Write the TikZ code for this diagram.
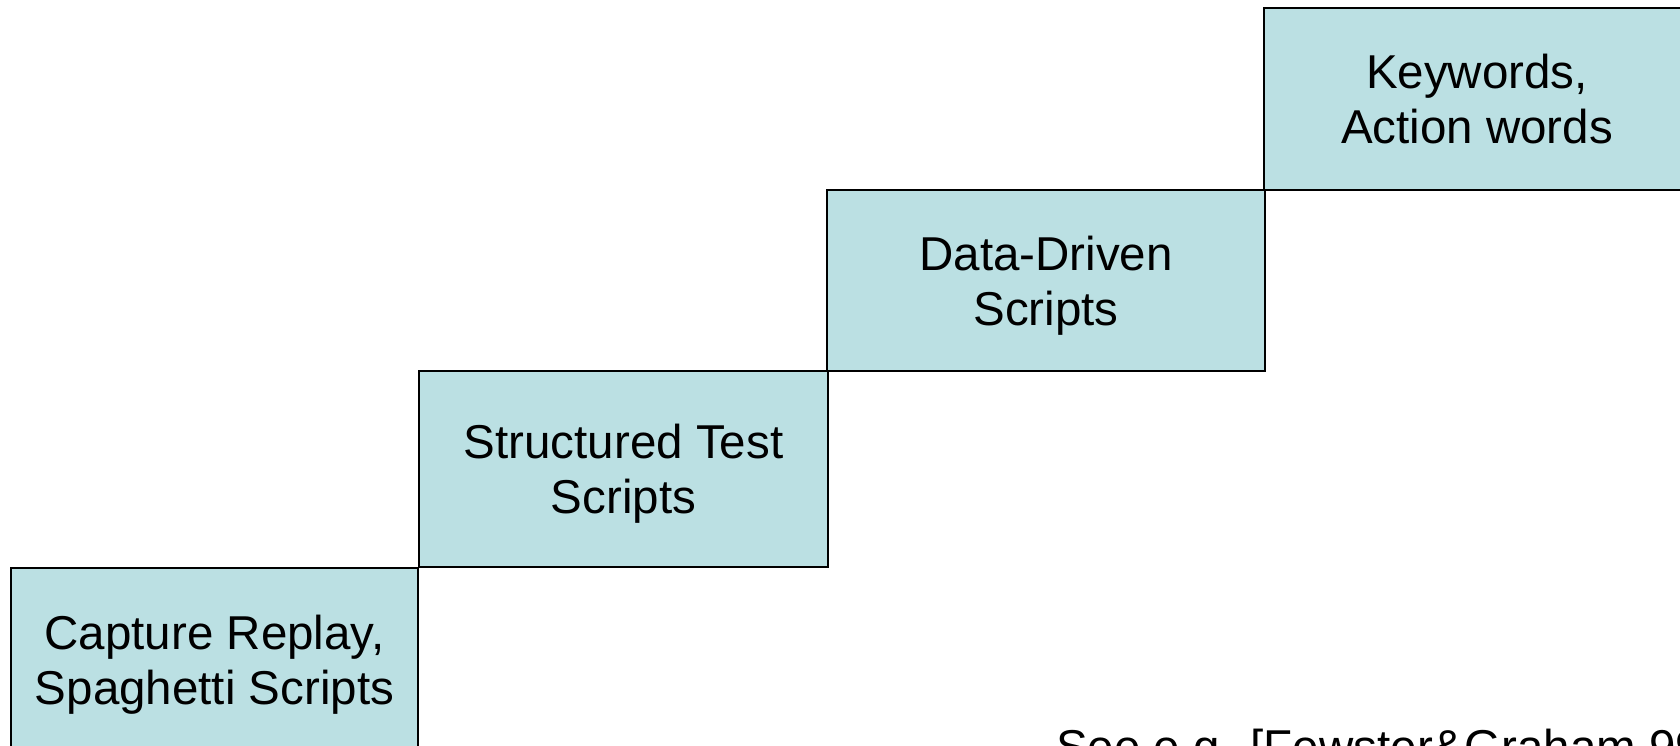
\documentclass[tikz,border=0pt]{standalone}
\usepackage{fontspec}
\setmainfont{Liberation Sans}
\definecolor{stepfill}{HTML}{BBE0E3}
\tikzset{
  stair/.style={draw=black, line width=2pt, fill=stepfill, rectangle,
    inner sep=0pt, text depth=0pt, align=center, font=\fontsize{47.5}{55}\selectfont},
  note/.style={inner sep=0pt, font=\fontsize{47.5}{55}\selectfont}
}
\begin{document}
\begin{tikzpicture}[x=1pt,y=-1pt]
  \useasboundingbox (0,0) rectangle (1680,746);
  \clip (0,0) rectangle (1680,746);
  % four steps of the staircase, lowest first
  \node[stair, minimum width=407pt, minimum height=183pt] (capture) at (214.5,659.5)
    {Capture Replay,\\Spaghetti Scripts};
  \node[stair, minimum width=409pt, minimum height=196pt] (structured) at (623.5,469)
    {Structured Test\\Scripts};
  \node[stair, minimum width=438pt, minimum height=181pt] (datadriven) at (1046,280.5)
    {Data-Driven\\Scripts};
  \node[stair, minimum width=426pt, minimum height=182pt] (keywords) at (1477,99)
    {Keywords,\\Action words};
  % reference note at the bottom edge
  \node[note, anchor=base west] (ref) at (1056,763) {See e.g. [Fewster\&Graham 99]};
\end{tikzpicture}
\end{document}
